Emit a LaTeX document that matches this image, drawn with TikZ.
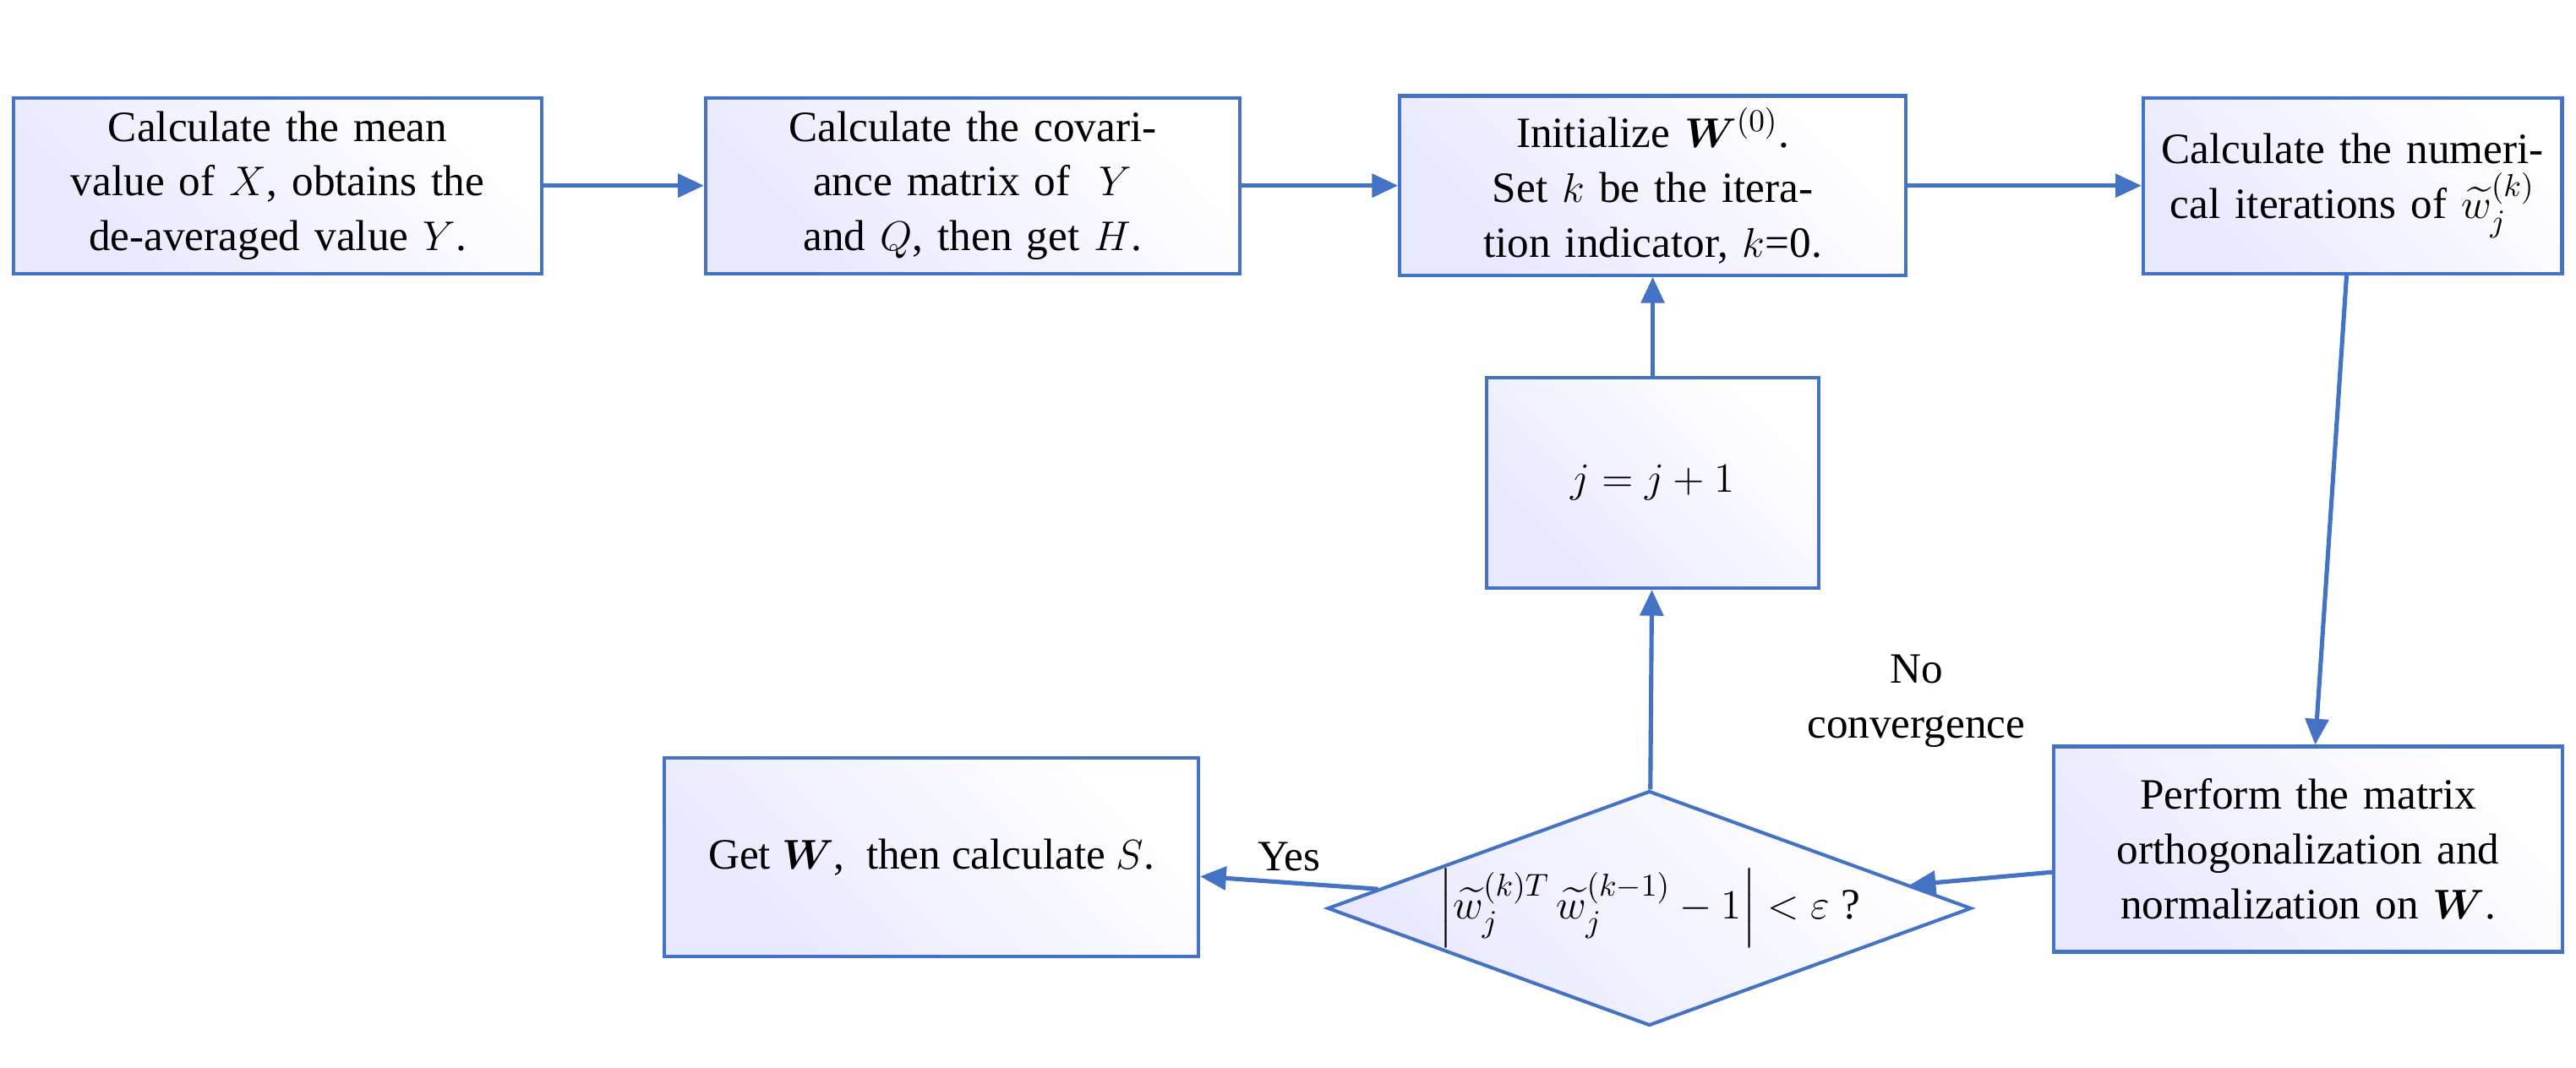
\documentclass[tikz,border=0pt]{standalone}
\usepackage{amsmath}
\usepackage{amssymb}
\usepackage{fontspec}
\setmainfont{Liberation Serif}
\usetikzlibrary{shapes.geometric,arrows.meta}
\definecolor{flowblue}{HTML}{4472C4}
\tikzset{
	stage/.style={draw=flowblue, line width=1.2pt, shading=axis, left color=blue!9, right color=white, shading angle=135, align=center, font=\fontsize{15}{19}\selectfont, inner sep=4pt},
	test/.style={stage, diamond, aspect=2.74, inner sep=0pt},
	flow/.style={draw=flowblue, line width=1.5pt, -{Triangle[length=9pt,width=8pt]}}
}
\begin{document}
\begin{tikzpicture}[x=0.02cm,y=-0.02cm]
	\useasboundingbox (0,0) rectangle (1568,650);
	
	\node[stage, minimum width=6.44cm, minimum height=2.14cm, text width=6cm] (mean) at (169,113) {Calculate the mean value of $X$, obtains the de-averaged value $Y$.};
	\node[stage, minimum width=6.5cm, minimum height=2.14cm, text width=6cm] (cov) at (592,113) {Calculate the covariance matrix of \ $Y$ and $Q$, then get $H$.};
	\node[stage, minimum width=6.16cm, minimum height=2.14cm, text width=5.8cm] (init) at (1006,113) {Initialize $\boldsymbol{W}^{(0)}$. Set $k$ be the iteration indicator, $k$=0.};
	\node[stage, minimum width=5.1cm, minimum height=2.14cm, text width=4.8cm] (iter) at (1432,113) {Calculate the numerical iterations of $\widetilde{w}_j^{(k)}$};
	\node[stage, minimum width=4.04cm, minimum height=2.56cm] (next) at (1006,294) {$j=j+1$};
	\node[stage, minimum width=6.2cm, minimum height=2.5cm, text width=5.8cm] (ortho) at (1405,517) {Perform the matrix orthogonalization and normalization on $\boldsymbol{W}$.};
	\node[test, minimum width=7.84cm, minimum height=2.86cm] (conv) at (1004,553) {$\left|\widetilde{w}_j^{(k)T}\,\widetilde{w}_j^{(k-1)}-1\right|<\varepsilon$ ?};
	\node[stage, minimum width=6.5cm, minimum height=2.42cm] (result) at (567,522) {Get $\boldsymbol{W}$, \ then calculate $S$.};
	
	\draw[flow] (mean) -- (cov);
	\draw[flow] (cov) -- (init);
	\draw[flow] (init) -- (iter);
	\draw[flow] (iter) -- (ortho);
	\draw[flow] (ortho) -- (conv);
	\draw[flow] (conv) -- node[right, align=center, font=\fontsize{15}{19}\selectfont, xshift=50pt, yshift=-4pt] {No\\convergence} (next);
	\draw[flow] (next) -- (init);
	\draw[flow] (conv) -- node[above, font=\fontsize{15}{19}\selectfont] {Yes} (result);
\end{tikzpicture}
\end{document}
